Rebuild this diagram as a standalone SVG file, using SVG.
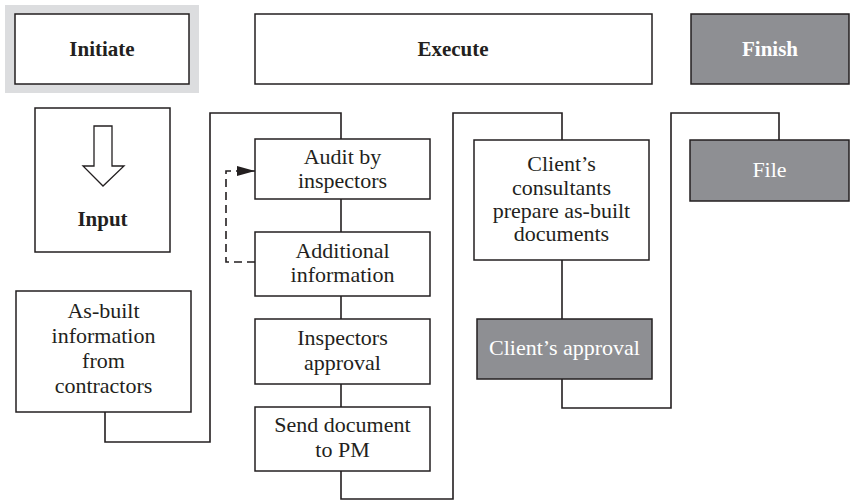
<svg xmlns="http://www.w3.org/2000/svg" width="861" height="502" viewBox="0 0 861 502">
<style>
.box{fill:#fff;stroke:#231f20;stroke-width:1.5}
.dark{fill:#8e8f93;stroke:#231f20;stroke-width:1.5}
.t{font-family:"Liberation Serif","Times New Roman",serif;font-size:22px;fill:#231f20;text-anchor:middle}
.b{font-weight:bold;font-size:21px}
.w{fill:#fff}
.ln{fill:none;stroke:#231f20;stroke-width:1.6}
</style>
<defs>
<marker id="ah" markerWidth="18" markerHeight="10" refX="18" refY="5" orient="auto" markerUnits="userSpaceOnUse">
<path d="M0,0 L18,5 L0,10 Z" fill="#231f20"/>
</marker>
</defs>
<rect x="0" y="0" width="861" height="502" fill="#fff"/>
<g id="initiate">
<rect x="5" y="5" width="194" height="88" fill="#dcdddf"/>
<rect class="box" x="15" y="14" width="174" height="70"/>
<text class="t b" x="102" y="56">Initiate</text>
</g>
<g id="execute">
<rect class="box" x="255" y="14" width="397" height="70"/>
<text class="t b" x="453" y="56">Execute</text>
</g>
<g id="finish">
<rect class="dark" x="691" y="14" width="158" height="70"/>
<text class="t b w" x="770" y="56">Finish</text>
</g>
<g id="input">
<rect class="box" x="35" y="108" width="135" height="144"/>
<path d="M94,126 H112 V166 H124 L103,186 L83,166 H94 Z" fill="#fff" stroke="#231f20" stroke-width="1.3"/>
<text class="t b" x="102.5" y="226">Input</text>
</g>
<g id="asbuilt">
<rect class="box" x="16" y="291" width="175" height="121"/>
<text class="t" x="103.5" y="318">As-built</text>
<text class="t" x="103.5" y="343">information</text>
<text class="t" x="103.5" y="368">from</text>
<text class="t" x="103.5" y="393">contractors</text>
</g>
<g id="connectors">
<path class="ln" d="M105,412 V442 H210 V113 H341 V139"/>
<path class="ln" d="M341,199 V232"/>
<path class="ln" d="M341,296 V319"/>
<path class="ln" d="M341,384 V407"/>
<path class="ln" d="M341,471 V499 H453 V113 H562 V140"/>
<path class="ln" d="M562,260 V319"/>
<path class="ln" d="M562,379 V408 H671 V113 H779 V140"/>
<path class="ln" d="M255,262 H226 V171 H255" stroke-dasharray="8,5" marker-end="url(#ah)"/>
</g>
<g id="audit">
<rect class="box" x="255" y="139" width="175" height="60"/>
<text class="t" x="342.5" y="164">Audit by</text>
<text class="t" x="342.5" y="188">inspectors</text>
</g>
<g id="additional">
<rect class="box" x="255" y="232" width="175" height="64"/>
<text class="t" x="342.5" y="258">Additional</text>
<text class="t" x="342.5" y="282">information</text>
</g>
<g id="approval">
<rect class="box" x="255" y="319" width="175" height="65"/>
<text class="t" x="342.5" y="345">Inspectors</text>
<text class="t" x="342.5" y="370">approval</text>
</g>
<g id="send">
<rect class="box" x="255" y="407" width="175" height="64"/>
<text class="t" x="342.5" y="432">Send document</text>
<text class="t" x="342.5" y="457">to PM</text>
</g>
<g id="consultants">
<rect class="box" x="474" y="140" width="175" height="120"/>
<text class="t" x="561.5" y="171">Client’s</text>
<text class="t" x="561.5" y="195">consultants</text>
<text class="t" x="561.5" y="218">prepare as-built</text>
<text class="t" x="561.5" y="241">documents</text>
</g>
<g id="clientapproval">
<rect class="dark" x="477" y="319" width="175" height="60"/>
<text class="t w" x="564.5" y="355">Client’s approval</text>
</g>
<g id="file">
<rect class="dark" x="690" y="140" width="159" height="61"/>
<text class="t w" x="769.5" y="177">File</text>
</g>
</svg>
